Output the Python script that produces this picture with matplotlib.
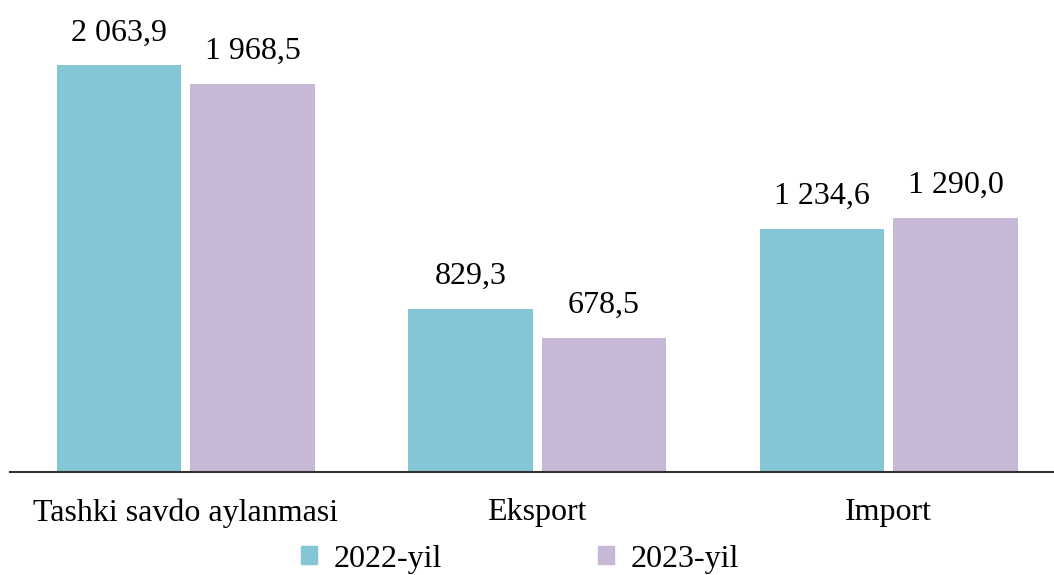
import matplotlib
matplotlib.use("Agg")
import matplotlib.pyplot as plt
import numpy as np
from matplotlib.patches import Patch

categories = ["Tashki savdo aylanmasi", "Eksport", "Import"]
series_names = ["2022-yil", "2023-yil"]
values_2022 = [2063.9, 829.3, 1234.6]
values_2023 = [1968.5, 678.5, 1290.0]
labels_2022 = ["2 063,9", "829,3", "1 234,6"]
labels_2023 = ["1 968,5", "678,5", "1 290,0"]

colors = ["#84C5D6", "#C7B8D6"]

plt.rcParams['font.family'] = ['Liberation Serif', 'DejaVu Serif']

W, H = 1054, 575
fig = plt.figure(figsize=(W / 100, H / 100), dpi=100)
ax_left = 10 / W
ax_width = 1054.5 / W
ax_bottom = (H - 472) / H
ymax = 2200
ax_height = ymax * 0.197 / H
ax = fig.add_axes([ax_left, ax_bottom, ax_width, ax_height])

FS = 23

x = np.arange(len(categories))
bw = 0.353
off = 0.19
b1 = ax.bar(x - off, values_2022, width=bw, color=colors[0], label=series_names[0])
b2 = ax.bar(x + off, values_2023, width=bw, color=colors[1], label=series_names[1])

for bars, labs in ((b1, labels_2022), (b2, labels_2023)):
    for rect, lab in zip(bars, labs):
        ax.annotate(lab, (rect.get_x() + rect.get_width() / 2, rect.get_height()),
                    xytext=(0, 13), textcoords="offset points",
                    ha="center", va="bottom", fontsize=FS, color="black")

ax.set_xlim(-0.5, 2.5)
ax.set_ylim(0, ymax)
ax.set_xticks(x)
ax.set_xticklabels(categories, fontsize=FS)
ax.tick_params(axis='x', length=0, pad=19)
ax.set_yticks([])
for s in ("top", "right", "left"):
    ax.spines[s].set_visible(False)
ax.spines["bottom"].set_color("#333333")
ax.spines["bottom"].set_linewidth(1.5)

handles = [Patch(color=colors[0], label=series_names[0]),
           Patch(color=colors[1], label=series_names[1])]
fig.legend(handles=handles, loc="center", bbox_to_anchor=(520 / W, 1 - 559 / H),
           ncol=2, frameon=False, fontsize=FS, handlelength=0.5, handleheight=0.5,
           columnspacing=4.9, handletextpad=0.5, borderpad=0.1)

fig.savefig("out.png", dpi=100)
